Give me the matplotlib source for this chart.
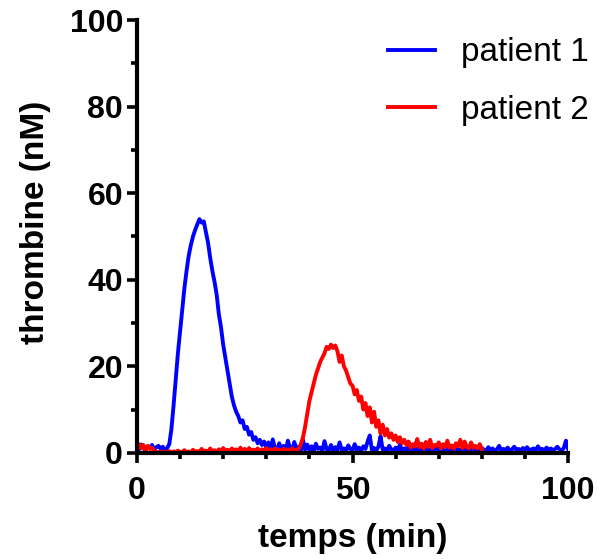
import numpy as np
import matplotlib
matplotlib.use("Agg")
import matplotlib.pyplot as plt
from matplotlib.ticker import MultipleLocator

plt.rcParams["font.family"] = ["Liberation Sans", "DejaVu Sans"]

STEP = 0.5  # minutes between readings

# patient 1: 0 -> 100 min
patient1 = [
    1.2, 0.8, 1.9, 1.1, 0.6, 1.5, 1.0, 1.8, 0.7, 1.3, 1.6, 0.9, 1.4, 0.5, 1.1,
    2.0, 5.5, 11, 17, 23, 28, 33, 38, 42, 45.5, 48, 50, 51.5, 52.8, 54, 53.2,
    53.5, 51, 48.5, 45, 42, 39.5, 36.5, 32, 29, 25, 22, 19, 16, 13, 11, 9.5,
    8.5, 7.0, 7.5, 5.5, 6.0, 4.2, 4.8, 3.0, 3.6, 2.2, 3.0, 1.8, 2.6, 1.2,
    2.4, 0.8, 3.1, 1.0, 0.5, 2.2, 0.9, 1.6, 0.4, 2.8,
    1.1, 0.6, 2.5, 0.8, 1.4, 0.5, 3.0, 0.7, 1.9, 0.6,
    1.5, 0.4, 2.1, 0.9, 1.2, 0.5, 2.7, 0.8, 0.6, 1.8,
    0.5, 1.3, 0.7, 2.4, 0.6, 1.0, 0.4, 1.7, 0.9, 0.5,
    2.0, 0.7, 1.2, 0.5, 1.5, 0.9, 2.6, 4.0, 0.6, 1.1,
    0.5, 1.4, 3.8, 0.7, 1.0, 0.4, 1.6, 0.8, 0.5, 1.2,
    0.6, 1.9, 0.4, 1.0, 0.7, 1.3, 0.5, 1.8, 0.6, 0.9,
    0.4, 1.1, 0.7, 1.5, 0.5, 0.8, 1.2, 0.4, 1.6, 0.7,
    0.9, 0.5, 1.3, 0.6, 0.4, 1.0, 0.7, 1.4, 0.5, 0.8,
    0.6, 1.2, 0.4, 0.9, 0.7, 1.5, 0.5, 0.8, 0.4, 1.1,
    0.7, 0.5, 1.3, 0.6, 1.0, 0.4, 0.8, 1.6, 0.5, 0.9,
    0.6, 1.2, 0.5, 0.8, 1.4, 0.6, 0.9, 0.5, 1.1, 0.7,
    1.3, 0.5, 0.8, 1.0, 0.6, 1.5, 0.7, 0.9, 0.5, 1.2,
    0.7, 1.0, 0.6, 0.9, 1.4, 0.8, 0.5, 1.1, 2.8, 0.9,
]

# patient 2: 0 -> 80 min
patient2 = [
    1.5, 2.0, 1.0, 1.8, 0.6, 1.6, 0.9, 1.2, 0.4,
    0.2, 0.1, 0.3, 0.2, 0.1, 0.2, 0.4, 0.1, 0.3, 0.2,
    0.5, 0.2, 0.1, 0.6, 0.2, 0.3, 0.1, 0.7, 0.2, 0.4,
    0.2, 0.9, 0.3, 0.5, 0.2, 1.0, 0.3, 0.6, 0.2, 0.8,
    0.3, 1.1, 0.4, 0.7, 0.3, 1.0, 0.5, 0.8, 0.3, 1.2,
    0.4, 0.9, 0.3, 1.1, 0.5, 0.7, 0.4, 1.0, 0.3, 0.8,
    0.5, 1.1, 0.4, 0.8, 0.3, 1.0, 0.5, 0.7, 0.4, 0.9,
    0.5, 0.8, 0.4, 1.0, 0.5, 0.7, 0.9,
    2.0, 3.5, 6, 9, 12, 14, 16, 18, 19.5, 21, 22, 23, 24.5, 24, 25, 24.2,
    24.8, 23.5, 21, 22.5, 20, 19, 17.5, 16, 15.5, 13.5, 14.5, 12, 13, 10,
    11.5, 8.5, 10.5, 7, 9.5, 6, 7.5, 4.5, 6.5, 4, 5.5, 3.5, 4.5, 3, 4, 2.5,
    3.6, 2.2, 3.0,
    1.8, 2.6, 1.2, 2.0, 1.5, 3.2, 1.3, 2.1, 1.0, 2.5,
    1.4, 3.0, 1.1, 1.8, 1.6, 2.4, 1.0, 2.0, 1.3, 2.8,
    1.2, 1.7, 1.0, 2.2, 1.5, 3.0, 1.1, 2.6, 1.3, 1.0,
    2.4, 1.2, 1.6, 1.0, 2.0, 0.8,
]

t1 = np.arange(len(patient1)) * STEP
t2 = np.arange(len(patient2)) * STEP

fig = plt.figure(figsize=(5.98, 5.59), dpi=100)
ax = fig.add_axes([0.229, 0.19, 0.721, 0.774])

ax.plot(t1, patient1, color="#0000ff", lw=2.8, label="patient 1")
ax.plot(t2, patient2, color="#ff0000", lw=2.8, label="patient 2")

ax.set_xlim(0, 100)
ax.set_ylim(0, 100)
ax.xaxis.set_major_locator(MultipleLocator(50))
ax.xaxis.set_minor_locator(MultipleLocator(10))
ax.yaxis.set_major_locator(MultipleLocator(20))
ax.yaxis.set_minor_locator(MultipleLocator(10))

for side in ("top", "right"):
    ax.spines[side].set_visible(False)
for side in ("left", "bottom"):
    ax.spines[side].set_linewidth(3)

ax.tick_params(which="major", length=7, width=2.6, labelsize=23, pad=3)
ax.tick_params(axis="x", which="major", pad=10)
ax.tick_params(which="minor", length=4.5, width=2.6)
for lab in ax.get_xticklabels() + ax.get_yticklabels():
    lab.set_fontweight("bold")

ax.set_xlabel("temps (min)", fontsize=24, fontweight="bold")
ax.set_ylabel("thrombine (nM)", fontsize=24, fontweight="bold")
ax.xaxis.set_label_coords(0.5, -0.163)
ax.yaxis.set_label_coords(-0.2, 0.533)

ax.legend(loc="upper left", bbox_to_anchor=(0.582, 0.96), frameon=False,
          fontsize=24, handlelength=1.4, handletextpad=0.8, labelspacing=0.8,
          borderpad=0, borderaxespad=0)

fig.savefig("out.png", dpi=100)
